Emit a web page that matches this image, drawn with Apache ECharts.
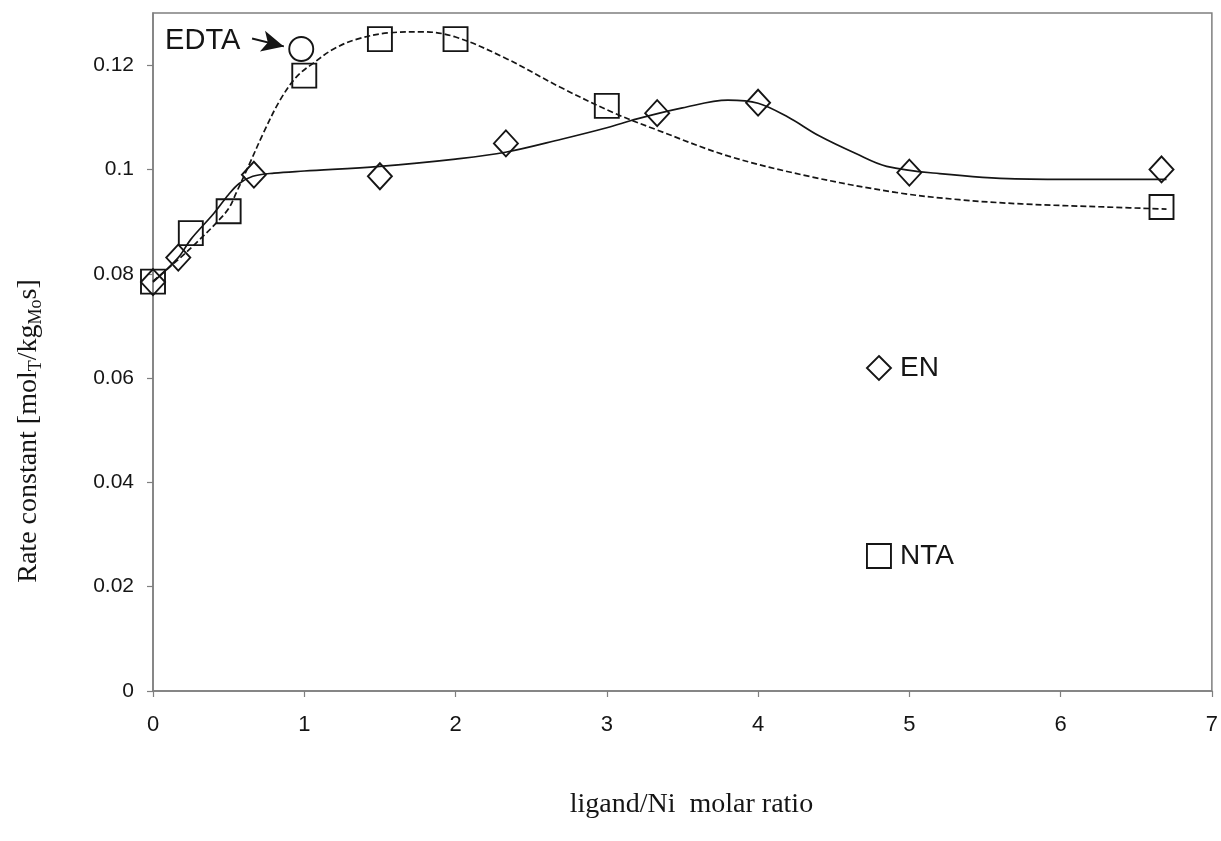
<!DOCTYPE html>
<html>
<head>
<meta charset="utf-8">
<title>Rate constant vs ligand/Ni molar ratio</title>
<script src="https://cdn.jsdelivr.net/npm/echarts@6/dist/echarts.min.js"></script>
<style>
  html, body { margin: 0; padding: 0; background: #ffffff; }
  #chart { width: 1221px; height: 841px; }
</style>
</head>
<body>
<div id="chart"></div>
<script>
// Measured rate constants (mol_T / kg_Mo s) against ligand/Ni molar ratio
const enRatio = [0, 0.167, 0.667, 1.5, 2.333, 3.333, 4, 5, 6.667];
const enRate  = [0.0784, 0.0831, 0.0990, 0.0987, 0.1050, 0.1108, 0.1128, 0.0994, 0.1000];

const ntaRatio = [0, 0.25, 0.5, 1, 1.5, 2, 3, 6.667];
const ntaRate  = [0.0785, 0.0878, 0.0920, 0.1180, 0.1250, 0.1250, 0.1122, 0.0928];

const edtaRatio = [0.98];
const edtaRate  = [0.1231];

// Smoothed guide curves drawn through the data
const enCurveX = [0, 0.167, 0.25, 0.4, 0.5, 0.57, 0.66, 0.8, 1.0, 1.5, 2.0, 2.33, 2.7, 3.0, 3.2, 3.5, 3.8, 4.0, 4.2, 4.4, 4.65, 4.85, 5.2, 5.7, 6.2, 6.7];
const enCurveY = [0.0784, 0.0831, 0.0866, 0.0915, 0.0952, 0.0973, 0.0987, 0.0993, 0.0997, 0.1006, 0.1020, 0.1033, 0.1058, 0.1080, 0.1097, 0.1118, 0.1133, 0.1127, 0.1100, 0.1065, 0.1030, 0.1006, 0.0992, 0.0982, 0.0981, 0.0981];

const ntaCurveX = [0, 0.17, 0.31, 0.42, 0.5, 0.55, 0.64, 0.73, 0.84, 0.95, 1.06, 1.2, 1.35, 1.56, 1.78, 2.0, 2.34, 2.69, 3.05, 3.33, 3.8, 4.35, 4.91, 5.33, 5.74, 6.3, 6.7];
const ntaCurveY = [0.0786, 0.0828, 0.0866, 0.0898, 0.0925, 0.0955, 0.1012, 0.1070, 0.1133, 0.1178, 0.1204, 0.1232, 0.1250, 0.1262, 0.1264, 0.1254, 0.1212, 0.1158, 0.1108, 0.1076, 0.1026, 0.0986, 0.0956, 0.0942, 0.0934, 0.0928, 0.0924];

// EDTA pointer arrow, in data units
const edtaArrowFrom = [0.655, 0.1251];
const edtaArrowTo   = [0.865, 0.1236];

const xTicks = [0, 1, 2, 3, 4, 5, 6, 7];

const zip = (xs, ys) => xs.map((x, i) => [x, ys[i]]);

const INK = '#151515';
const AXIS = '#7f7f7f';
const SANS = '"Liberation Sans", Arial, sans-serif';
const SERIF = '"Liberation Serif", "Times New Roman", serif';

// hollow markers: the curves stay visible through them
const markerStyle = { color: 'rgba(255,255,255,0)', borderColor: INK, borderWidth: 1.9, opacity: 1 };

const chart = echarts.init(document.getElementById('chart'), null, { renderer: 'canvas' });

chart.setOption({
  backgroundColor: '#ffffff',
  animation: false,
  grid: {
    left: 153, right: 8, top: 13, bottom: 150,
    show: true, borderColor: AXIS, borderWidth: 1.5, backgroundColor: 'transparent'
  },
  legend: [
    {
      data: [{ name: 'EN', icon: 'diamond' }],
      left: 861, top: 349, orient: 'vertical',
      itemWidth: 24, itemHeight: 24, itemGap: 0,
      itemStyle: { color: 'rgba(255,255,255,0)', borderColor: INK, borderWidth: 1.9 },
      textStyle: { fontFamily: SANS, fontSize: 28, color: INK, padding: [0, 0, 0, 4] },
      selectedMode: false
    },
    {
      data: [{ name: 'NTA', icon: 'rect' }],
      left: 861, top: 537, orient: 'vertical',
      itemWidth: 24, itemHeight: 24, itemGap: 0,
      itemStyle: { color: 'rgba(255,255,255,0)', borderColor: INK, borderWidth: 1.9 },
      textStyle: { fontFamily: SANS, fontSize: 28, color: INK, padding: [0, 0, 0, 4] },
      selectedMode: false
    }
  ],
  xAxis: {
    type: 'value', min: xTicks[0], max: xTicks[xTicks.length - 1], interval: 1,
    name: 'ligand/Ni  molar ratio', nameLocation: 'middle', nameGap: 100,
    nameTextStyle: { fontFamily: SERIF, fontSize: 28, color: INK, padding: [0, 0, 0, 18] },
    axisLine: { show: true, onZero: false, lineStyle: { color: AXIS, width: 1.5 } },
    axisTick: { show: true, inside: false, length: 6, lineStyle: { color: AXIS, width: 1.2 } },
    axisLabel: { fontFamily: SANS, fontSize: 22, color: INK, margin: 23 },
    splitLine: { show: false }
  },
  yAxis: {
    type: 'value', min: 0, max: 0.13, interval: 0.02,
    name: 'Rate constant [mol{sub|T}/kg{sub|Mo}s]',
    nameLocation: 'middle', nameGap: 108, nameRotate: 90,
    nameTextStyle: {
      fontFamily: SERIF, fontSize: 28, color: INK,
      padding: [0, 158, 0, 0],
      rich: {
        sub: { fontFamily: SERIF, fontSize: 18, color: INK, padding: [14, 0, 0, 0] }
      }
    },
    axisLine: { show: true, lineStyle: { color: AXIS, width: 1.5 } },
    axisTick: { show: true, inside: false, length: 6, lineStyle: { color: AXIS, width: 1.2 } },
    axisLabel: { fontFamily: SANS, fontSize: 21, color: INK, margin: 19, showMaxLabel: false },
    splitLine: { show: false }
  },
  series: [
    {
      name: 'EN curve', type: 'line', data: zip(enCurveX, enCurveY),
      smooth: 0.35, showSymbol: false, symbol: 'none', silent: true,
      lineStyle: { color: INK, width: 1.7, type: 'solid' }, z: 2
    },
    {
      name: 'NTA curve', type: 'line', data: zip(ntaCurveX, ntaCurveY),
      smooth: 0.35, showSymbol: false, symbol: 'none', silent: true,
      lineStyle: { color: INK, width: 1.7, type: [6, 3] }, z: 2
    },
    {
      name: 'EN', type: 'scatter', data: zip(enRatio, enRate),
      symbol: 'diamond', symbolSize: [24, 26], itemStyle: markerStyle, z: 3
    },
    {
      name: 'NTA', type: 'scatter', data: zip(ntaRatio, ntaRate),
      symbol: 'rect', symbolSize: 24, itemStyle: markerStyle, z: 3
    },
    {
      name: 'EDTA', type: 'scatter', data: zip(edtaRatio, edtaRate),
      symbol: 'circle', symbolSize: 24, itemStyle: markerStyle, z: 3,
      label: {
        show: true, position: 'left', distance: 48, offset: [0, -8],
        formatter: '{a}', fontFamily: SANS, fontSize: 29, color: INK
      },
      markLine: {
        silent: true, symbol: ['none', 'arrow'], symbolSize: [16, 22],
        label: { show: false },
        lineStyle: { color: INK, width: 2, type: 'solid', opacity: 1 },
        data: [[{ coord: edtaArrowFrom }, { coord: edtaArrowTo }]]
      }
    }
  ]
});
</script>
</body>
</html>
